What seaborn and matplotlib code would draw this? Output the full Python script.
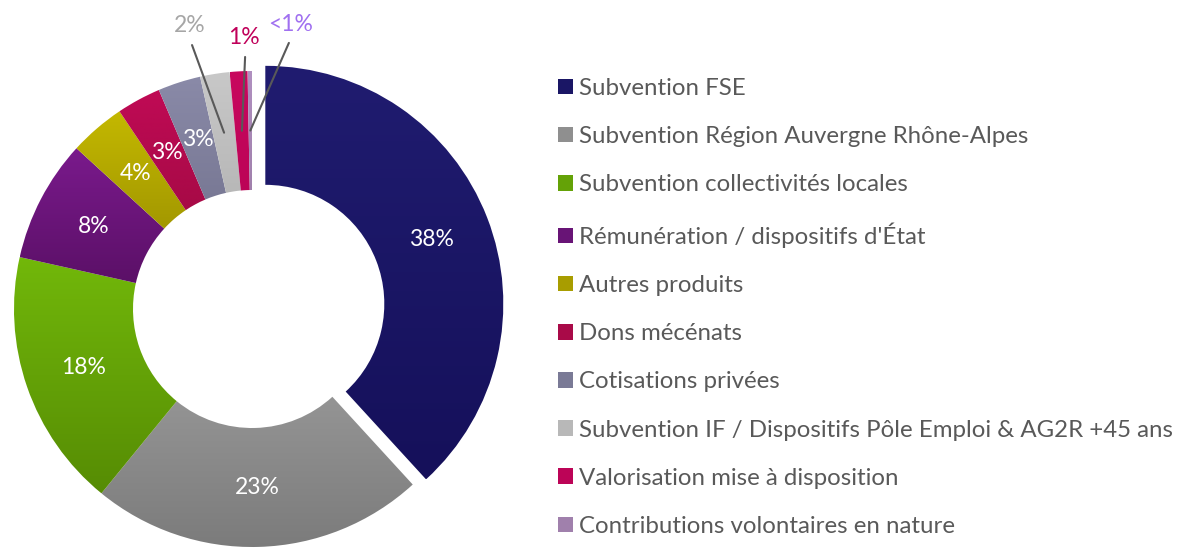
import numpy as np
import matplotlib
matplotlib.use("Agg")
import matplotlib.pyplot as plt
import matplotlib.colors as mcolors
from matplotlib.patches import Patch
import seaborn as sns

# share of each funding source (%)
categories = [
    "Subvention FSE",
    "Subvention Région Auvergne Rhône-Alpes",
    "Subvention collectivités locales",
    "Rémunération / dispositifs d'État",
    "Autres produits",
    "Dons mécénats",
    "Cotisations privées",
    "Subvention IF / Dispositifs Pôle Emploi & AG2R +45 ans",
    "Valorisation mise à disposition",
    "Contributions volontaires en nature",
]
values = [38.2, 22.7, 17.6, 8.3, 3.8, 3.0, 2.9, 2.0, 1.2, 0.3]
pct_labels = ["38%", "23%", "18%", "8%", "4%", "3%", "3%", "2%", "1%", "<1%"]

# gradient colours (top, bottom) per slice
top_colors = ["#201c70", "#a3a3a3", "#72b80a", "#7a1a8c", "#c4b800",
              "#c00a55", "#8a8aa8", "#c8c8c8", "#c8085e", "#b090c0"]
bottom_colors = ["#15105a", "#7b7b7b", "#568c04", "#550e60", "#8c8200",
                 "#920a3a", "#6a6a84", "#a8a8a8", "#b00050", "#907098"]
# colours of the labels drawn outside the ring
outside_colors = {7: "#a6a6a6", 8: "#c0005a", 9: "#a070f0"}

sns.set_theme(style="white")
plt.rcParams["font.family"] = ["Lato", "DejaVu Sans"]

W, H = 1179, 549
fig = plt.figure(figsize=(W / 100, H / 100), dpi=100)
fig.patch.set_facecolor("white")

# square axes centred on the donut (pixel centre 252, 309 from top, radius 238px)
cx, cy, R, half = 252, H - 309, 238, 300
ax = fig.add_axes([(cx - half) / W, (cy - half) / H, 2 * half / W, 2 * half / H])
lim = half / R
ax.set_xlim(-lim, lim)
ax.set_ylim(-lim, lim)
ax.set_aspect("equal")
ax.axis("off")

mid_colors = [mcolors.to_hex((np.array(mcolors.to_rgb(t)) + np.array(mcolors.to_rgb(b))) / 2)
              for t, b in zip(top_colors, bottom_colors)]

explode = [0.06] + [0] * (len(values) - 1)
wedges, _ = ax.pie(values, colors=mid_colors, startangle=90, counterclock=False,
                   explode=explode, radius=1.0,
                   wedgeprops=dict(width=0.5, linewidth=0))

# vertical gradient fill clipped to each wedge
for w, t, b in zip(wedges, top_colors, bottom_colors):
    verts = w.get_path().vertices
    x0, x1 = verts[:, 0].min(), verts[:, 0].max()
    y0, y1 = verts[:, 1].min(), verts[:, 1].max()
    cmap = mcolors.LinearSegmentedColormap.from_list("g", [b, t])
    grad = np.linspace(0, 1, 256).reshape(-1, 1)
    im = ax.imshow(grad, cmap=cmap, origin="lower", aspect="auto",
                   extent=[x0, x1, y0, y1], zorder=w.get_zorder())
    im.set_clip_path(w)
    w.set_facecolor("none")
ax.set_xlim(-lim, lim)
ax.set_ylim(-lim, lim)

# labels inside the ring, leader lines for the thin slices
outside_text_pos = {7: (-0.26, 1.19), 8: (-0.034, 1.14), 9: (0.16, 1.195)}
line_start = {7: (-0.252, 1.109), 8: (-0.029, 1.059), 9: (0.155, 1.118)}
for i, w in enumerate(wedges):
    ang = np.deg2rad((w.theta1 + w.theta2) / 2)
    cxw, cyw = w.center
    px, py = cxw + 0.75 * np.cos(ang), cyw + 0.75 * np.sin(ang)
    if i in outside_colors:
        ax.plot([line_start[i][0], px], [line_start[i][1], py], color="#595959", lw=1.5,
                zorder=5, clip_on=False)
        ax.text(*outside_text_pos[i], pct_labels[i], color=outside_colors[i],
                fontsize=16.5, ha="center", va="center", clip_on=False)
    else:
        ax.text(px, py, pct_labels[i], color="white", fontsize=16.5,
                ha="center", va="center", zorder=6)

handles = [Patch(facecolor=c, edgecolor="none") for c in mid_colors]
fig.legend(handles, categories, loc="upper left", bbox_to_anchor=(558 / W, 1 - 78 / H),
           frameon=False, fontsize=17.3, labelcolor="#595959",
           handlelength=0.62, handleheight=0.62, handletextpad=0.25,
           labelspacing=1.13, borderaxespad=0, borderpad=0)

fig.savefig("out.png", dpi=100, facecolor="white")
